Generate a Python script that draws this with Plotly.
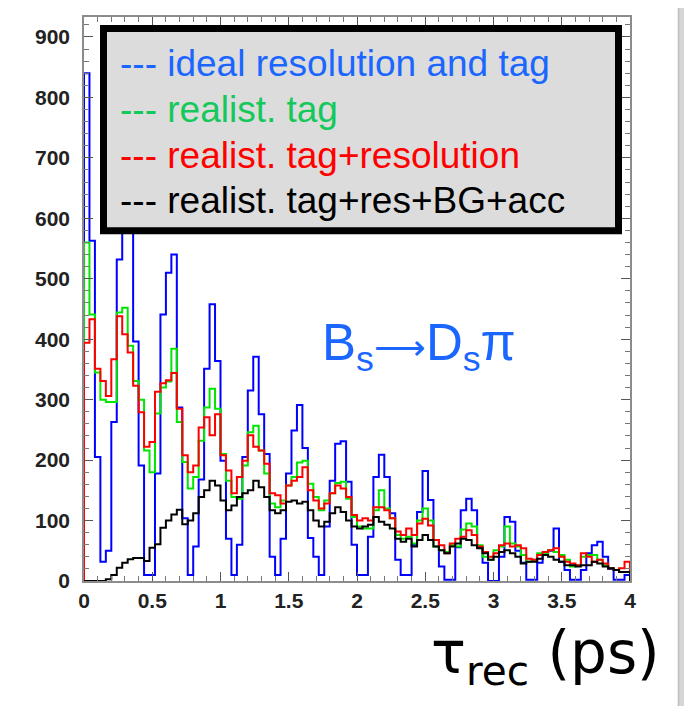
import numpy as np
import plotly.graph_objects as go

# ---------------- data ----------------
x_min, x_max = 0.0, 4.0
n_bins = 100

ideal = [840, 563, 205, 32, 50, 263, 532, 640, 660, 396,
         191, 10, 10, 178, 441, 510, 540, 287, 104, 10,
         57, 168, 351, 458, 364, 199, 70, 10, 60, 205,
         315, 371, 276, 210, 40, 10, 70, 178, 249, 291,
         220, 71, 40, 10, 90, 166, 227, 231, 164, 60,
         10, 10, 73, 172, 209, 172, 112, 35, 10, 10,
         60, 114, 182, 134, 68, 24, 2, 2, 56, 117,
         136, 117, 56, 30, 0, 0, 40, 106, 98, 50,
         30, 2, 2, 30, 46, 50, 87, 32, 18, 2,
         2, 18, 46, 59, 65, 40, 20, 2, 2, 10]

tag = [560, 441, 345, 300, 296, 296, 444, 452, 389, 331,
       300, 216, 180, 277, 320, 330, 384, 263, 197, 153,
       172, 232, 287, 318, 285, 210, 166, 139, 136, 191,
       246, 257, 216, 178, 128, 122, 133, 158, 172, 196,
       199, 161, 139, 117, 133, 145, 162, 164, 136, 106,
       90, 87, 87, 117, 150, 120, 104, 76, 70, 73,
       62, 100, 120, 100, 57, 51, 48, 59, 57, 85,
       95, 90, 59, 40, 35, 51, 57, 90, 62, 57,
       43, 32, 35, 46, 46, 51, 48, 43, 35, 24,
       26, 40, 43, 43, 35, 26, 21, 18, 15, 15]

tag_res = [394, 433, 351, 331, 306, 367, 438, 408, 378, 323,
           279, 222, 230, 313, 327, 332, 344, 285, 208, 180,
           191, 254, 271, 241, 276, 208, 183, 145, 172, 199,
           241, 222, 216, 194, 145, 142, 128, 158, 166, 172,
           188, 150, 133, 120, 128, 145, 158, 153, 139, 109,
           100, 104, 100, 122, 122, 117, 104, 82, 76, 87,
           76, 95, 103, 92, 68, 59, 46, 62, 70, 73,
           84, 76, 57, 48, 40, 46, 59, 62, 57, 59,
           54, 37, 35, 43, 48, 51, 54, 40, 32, 29,
           26, 46, 40, 32, 35, 29, 21, 18, 21, 32]

full = [0, 0, 0, 0, 3, 10, 22, 30, 36, 38,
        38, 33, 55, 61, 88, 100, 110, 118, 94, 100,
        112, 139, 150, 166, 158, 133, 117, 125, 139, 145,
        150, 166, 155, 139, 117, 112, 117, 131, 133, 128,
        131, 117, 100, 90, 98, 112, 122, 114, 100, 90,
        87, 90, 93, 106, 98, 93, 87, 70, 65, 70,
        57, 68, 76, 68, 57, 51, 46, 57, 62, 70,
        68, 59, 54, 46, 35, 40, 48, 51, 46, 40,
        29, 32, 32, 37, 43, 40, 35, 32, 26, 26,
        24, 26, 26, 32, 29, 24, 21, 18, 15, 15]

series_names = ["ideal resolution and tag", "realist. tag",
                "realist. tag+resolution", "realist. tag+res+BG+acc"]
series_values = [ideal, tag, tag_res, full]
line_colors = ["#0000ff", "#00e600", "#ff0000", "#000000"]
text_colors = ["#1a66ff", "#14c85a", "#ff0000", "#000000"]

y_ticks = [0, 100, 200, 300, 400, 500, 600, 700, 800, 900]
x_ticks = [0, 0.5, 1, 1.5, 2, 2.5, 3, 3.5, 4]
x_tick_labels = ["0", "0.5", "1", "1.5", "2", "2.5", "3", "3.5", "4"]
y_max = 933

# ---------------- figure ----------------
edges = np.linspace(x_min, x_max, n_bins + 1)

fig = go.Figure()
for vals, col, name in zip(series_values, line_colors, series_names):
    v = np.asarray(vals, dtype=float)
    xs = np.concatenate([[edges[0]], edges[:-1], [edges[-1]], [edges[-1]]])
    ys = np.concatenate([[0.0], v, [v[-1]], [0.0]])
    fig.add_trace(go.Scatter(x=xs, y=ys, mode="lines", line_shape="hv",
                             line=dict(color=col, width=2), name=name,
                             showlegend=False, hoverinfo="skip"))

# page has an 8px body margin: figure origin sits at page (8, 8)
OFF = 8
PAGE_W, PAGE_H = 692, 714
PL, PR, PT, PB = 84, 630, 15, 581          # plot area in page pixels
W, H = PAGE_W - OFF, PAGE_H - 2 * OFF
L, T = PL - OFF, PT - OFF
R, B = W - (PR - OFF), H - (PB - OFF)
pw, ph = PR - PL, PB - PT

def px(xp):
    return (xp - PL) / pw

def py(yp):
    return (PB - yp) / ph

shapes = []
# legend box
shapes.append(dict(type="rect", xref="paper", yref="paper",
                   x0=px(103.5), x1=px(618.5), y0=py(229.5), y1=py(26.5),
                   line=dict(color="black", width=7), fillcolor="#dcdcdc",
                   layer="above"))
# right gray strip (slide frame)
shapes.append(dict(type="line", xref="paper", yref="paper",
                   x0=px(686), x1=px(686), y0=py(714), y1=py(0),
                   line=dict(color="#d6d6d6", width=16), layer="above"))
shapes.append(dict(type="line", xref="paper", yref="paper",
                   x0=px(678.5), x1=px(678.5), y0=py(714), y1=py(0),
                   line=dict(color="#bdbdbd", width=1.5), layer="above"))

annotations = []
legend_y = [61.7, 108, 154, 199]
for name, col, yy in zip(series_names, text_colors, legend_y):
    annotations.append(dict(xref="paper", yref="paper", x=px(118), y=py(yy),
                            xanchor="left", yanchor="middle", showarrow=False,
                            text="--- " + name,
                            font=dict(family="Liberation Sans", size=37, color=col)))

annotations.append(dict(xref="paper", yref="paper", x=px(320), y=py(346),
                        xanchor="left", yanchor="middle", showarrow=False,
                        text=("B<sub>s</sub><span style='font-size:36px'>\u27f6</span>"
                              "D<sub>s</sub>\u03c0"),
                        font=dict(family="Liberation Sans", size=51, color="#1a66ff")))

annotations.append(dict(xref="paper", yref="paper", x=px(662), y=py(657),
                        xanchor="right", yanchor="middle", showarrow=False,
                        text="\u03c4<sub>rec</sub> (ps)",
                        font=dict(family="DejaVu Sans", size=58, color="black")))

axis_common = dict(showline=True, linecolor="#8c8c8c", linewidth=1.5,
                   mirror="ticks", ticks="inside", tickcolor="#555555",
                   showgrid=False, zeroline=False,
                   tickfont=dict(family="Liberation Sans", size=21,
                                 color="#222222", weight="bold"))

fig.update_layout(
    width=W, height=H,
    margin=dict(l=L, r=R, t=T, b=B),
    paper_bgcolor="white", plot_bgcolor="white",
    xaxis=dict(range=[x_min, x_max], tickvals=x_ticks, ticktext=x_tick_labels,
               ticklen=9, tickwidth=1.2,
               minor=dict(dtick=0.1, ticklen=5, tickcolor="#777777", ticks="inside"),
               **axis_common),
    yaxis=dict(range=[0, y_max], tickvals=y_ticks, ticklen=9, tickwidth=1.2,
               ticklabelstandoff=8,
               minor=dict(dtick=20, ticklen=5, tickcolor="#777777", ticks="inside"),
               **axis_common),
    shapes=shapes,
    annotations=annotations,
    showlegend=False,
)

fig.write_html("out.html")
